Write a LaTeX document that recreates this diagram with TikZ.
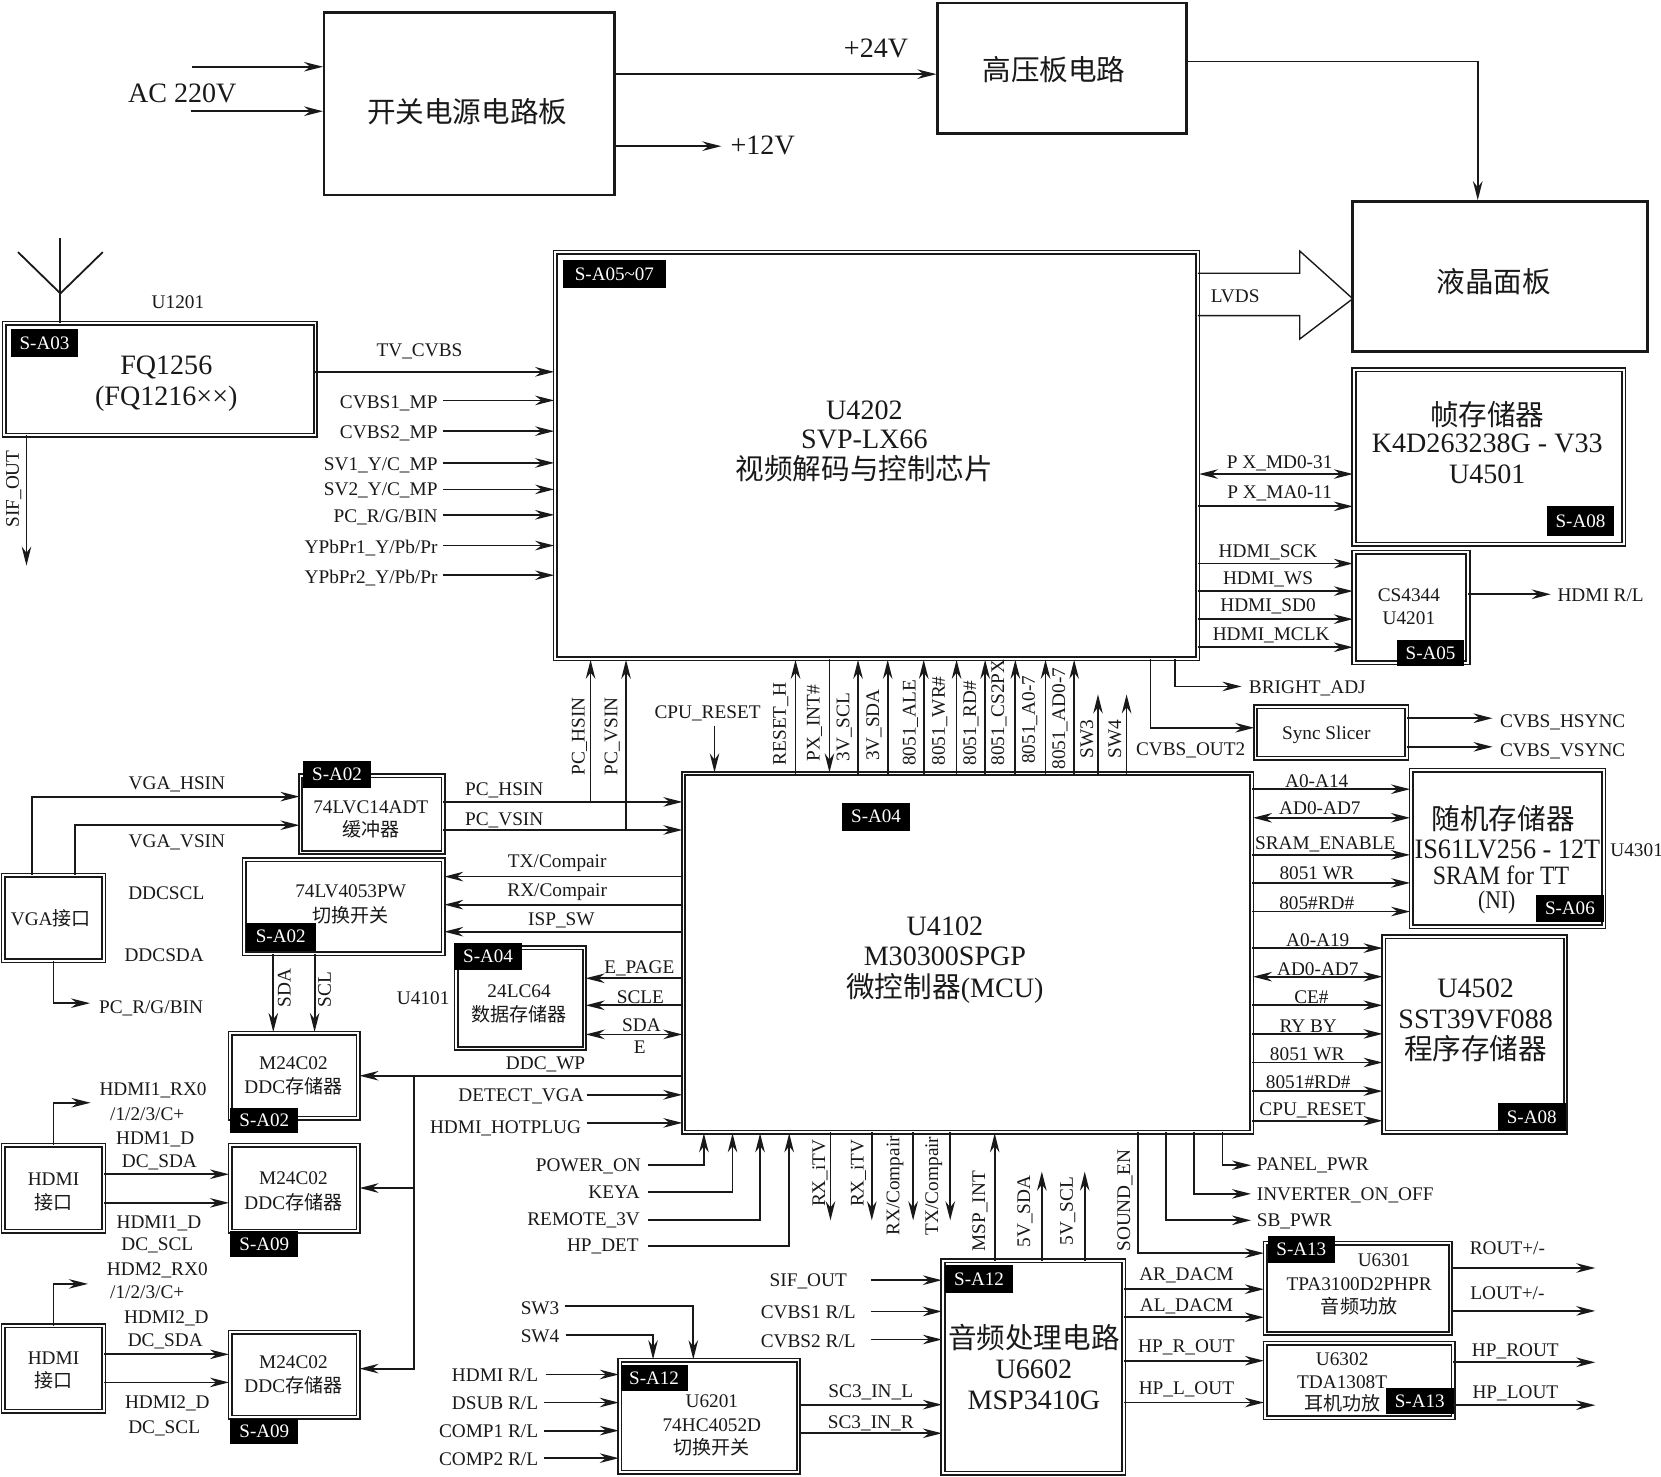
\documentclass[tikz,border=0pt]{standalone}
\usepackage{fontspec}
\usetikzlibrary{arrows.meta}
\setmainfont{Liberation Serif}
\newfontfamily\cj{Noto Sans CJK SC}
\catcode`\_=12
\newcounter{nid}
\colorlet{ink}{black!90}
\tikzset{
  x=1pt,y=-1pt,
  arr/.style={draw=ink,line width=1.7,-{Stealth[length=18,width=9]},shorten >=1},
  barr/.style={draw=ink,line width=1.7,{Stealth[length=18,width=9]}-{Stealth[length=18,width=9]},shorten >=1,shorten <=1},
  ln/.style={draw=ink,line width=1.7},
  boxd/.style={draw=ink,double=white,double distance=1.8,line width=1.5,inner sep=0,outer sep=0},
  boxs/.style={draw=ink,line width=2.4,inner sep=0,outer sep=0},
  tagb/.style={fill=black,text=white,inner sep=0,outer sep=0,font=\fontsize{18}{18}\selectfont},
  tx/.style={text=ink,inner sep=0,outer sep=0,yshift=-1pt,font=\fontsize{18.2}{18.2}\selectfont},
  bt/.style={font=\fontsize{26.5}{27}\selectfont},
  vt/.style={rotate=90,xshift=1.5pt,yshift=1pt}
}
\newcommand\tb[1]{{\fontsize{18}{18}\selectfont\cj #1}}
\newcommand\tB[1]{{\fontsize{27}{27}\selectfont\cj #1}}
\newcommand\dbx[6]{\node[boxd,minimum width={(#4-#2-4.4)*1pt},minimum height={(#5-#3-4.4)*1pt}] (#1) at ({(#2+#4)/2},{(#3+#5)/2}) {#6};}
\newcommand\sbx[6]{\node[boxs,minimum width={(#4-#2-2)*1pt},minimum height={(#5-#3-2)*1pt}] (#1) at ({(#2+#4)/2},{(#3+#5)/2}) {#6};}
\newcommand\stg[5]{\stepcounter{nid}\node[tagb,minimum width={(#3-#1)*1pt},minimum height={(#4-#2)*1pt}] (g\arabic{nid}) at ({(#1+#3)/2},{(#2+#4)/2}) {#5};}
\newcommand\tl[4][]{\stepcounter{nid}\node[tx,#1] (t\arabic{nid}) at (#2,#3) {#4};}
% connectors: horizontal / vertical between two named anchors
\newcommand\hc[4][arr]{\draw[#1] (#2 |- 0,#4) -- (#3 |- 0,#4);}
\newcommand\vc[4][arr]{\draw[#1] (#2 -| #4,0) -- (#3 -| #4,0);}
% free start (x,y) going to node anchor horizontally
\newcommand\hf[4][arr]{\stepcounter{nid}\coordinate (c\arabic{nid}) at (#2,#3); \draw[#1] (c\arabic{nid}) -- (#4 |- c\arabic{nid});}
% from node anchor horizontally to free end (x,y)
\newcommand\hTo[4][arr]{\stepcounter{nid}\coordinate (c\arabic{nid}) at (#3,#4); \draw[#1] (#2 |- c\arabic{nid}) -- (c\arabic{nid});}
% from node anchor vertically to free end (x,y)
\newcommand\vTo[4][arr]{\stepcounter{nid}\coordinate (c\arabic{nid}) at (#3,#4); \draw[#1] (#2 -| c\arabic{nid}) -- (c\arabic{nid});}
% from node anchor at x vertically to y, then horizontally to a free point
\newcommand\elTo[4]{\stepcounter{nid}\coordinate (c\arabic{nid}) at (#4,#3); \draw[arr] (#1 -| #2,0) |- (c\arabic{nid});}
\begin{document}
\begin{tikzpicture}
\useasboundingbox[fill=white] (0,0) rectangle (1568,1394);
%% top power
\sbx{power}{305}{11}{581}{185}{}
\sbx{hv}{884}{2}{1121}{127}{}
\sbx{panel}{1276}{189}{1556}{333}{}
\tl{441}{104}{\tB{开关电源电路板}}
\tl{995}{65}{\tB{高压板电路}}
\tl{1410}{265}{\tB{液晶面板}}
\tl[bt]{172}{87}{AC 220V}
\hf{181}{63}{power.west}
\hf{180}{105}{power.west}
\hc{power.east}{hv.west}{70}
\tl[bt]{827}{45}{+24V}
\hTo{power.east}{682}{138}
\tl[bt]{720}{136}{+12V}
\draw[arr] (hv.east |- 0,58) -| (panel.north -| 1395,0);
%% tuner
\dbx{tuner}{2}{303}{300}{413}{}
\coordinate (antt) at (57,225);
\coordinate (antl) at (17,238);
\coordinate (antr) at (97,238);
\coordinate (antm) at (57,277);
\draw[ln] (tuner.north -| antt) -- (antt);
\draw[ln] (antl) -- (antm) -- (antr);
\tl{168}{284}{U1201}
\stg{10}{311}{74}{337}{S-A03}
\tl[bt]{157}{346}{FQ1256}
\tl[bt]{157}{375}{(FQ1216××)}
\vTo{tuner.south}{25}{535}
\tl[vt]{14}{462}{SIF_OUT}
%% main chip
\dbx{main}{522}{236}{1133}{624}{}
\stg{531}{245}{629}{272}{S-A05\textasciitilde07}
\tl[bt]{816}{386}{U4202}
\tl[bt]{816}{414}{SVP-LX66}
\tl{816}{441}{\tB{视频解码与控制芯片}}
\hc{tuner.east}{main.west}{351}
\tl{396}{331}{TV_CVBS}
\tl[anchor=east]{413}{380}{CVBS1_MP}\hf{418}{378}{main.west}
\tl[anchor=east]{413}{408}{CVBS2_MP}\hf{418}{407}{main.west}
\tl[anchor=east]{413}{438}{SV1_Y/C_MP}\hf{418}{437}{main.west}
\tl[anchor=east]{413}{462}{SV2_Y/C_MP}\hf{418}{462}{main.west}
\tl[anchor=east]{413}{487}{PC_R/G/BIN}\hf{418}{486}{main.west}
\tl[anchor=east]{413}{516}{YPbPr1_Y/Pb/Pr}\hf{418}{515}{main.west}
\tl[anchor=east]{413}{545}{YPbPr2_Y/Pb/Pr}\hf{418}{543}{main.west}
%% LVDS block arrow
\coordinate (lv1) at (1227,258);\coordinate (lv2) at (1227,237);\coordinate (lv4) at (1227,320);\coordinate (lv5) at (1227,298);
\draw[ln,line width=1.3] (main.east |- lv1) -- (lv1) -- (lv2) -- (panel.west |- 0,282) -- (lv4) -- (lv5) -- (main.east |- lv5);
\tl{1166}{279}{LVDS}
%% frame memory
\dbx{frame}{1276}{347}{1535}{516}{}
\tl{1404}{390}{\tB{帧存储器}}
\tl[bt]{1404}{418}{K4D263238G - V33}
\tl[bt]{1404}{447}{U4501}
\stg{1460}{478}{1524}{506}{S-A08}
\hc[barr]{main.east}{frame.west}{447.5}
\tl{1208}{436}{P X_MD0-31}
\hc{main.east}{frame.west}{478}
\tl{1208}{465}{P X_MA0-11}
%% CS4344
\dbx{cs}{1276}{519}{1388}{628}{}
\tl{1330}{561}{CS4344}
\tl{1330}{583}{U4201}
\stg{1319}{604}{1382}{629}{S-A05}
\hc{main.east}{cs.west}{532}\tl{1197}{520}{HDMI_SCK}
\hc{main.east}{cs.west}{558}\tl{1197}{546}{HDMI_WS}
\hc{main.east}{cs.west}{584.5}\tl{1197}{571.5}{HDMI_SD0}
\hc{main.east}{cs.west}{611}\tl{1200}{599}{HDMI_MCLK}
\hTo{cs.east}{1465}{561}
\tl{1511}{561}{HDMI R/L}
\elTo{main.south}{1109}{648}{1173}
\tl[anchor=west]{1179}{649}{BRIGHT_ADJ}
%% sync
\dbx{sync}{1183}{665}{1330}{718}{}
\tl{1252}{692.5}{Sync Slicer}
\draw[arr] (main.south -| 1086,0) |- (sync.west |- 0,687);
\tl{1124}{707}{CVBS_OUT2}
\hTo{sync.east}{1410}{678}
\hTo{sync.east}{1410}{705}
\tl[anchor=west]{1416}{681}{CVBS_HSYNC}
\tl[anchor=west]{1416}{708}{CVBS_VSYNC}
%% MCU
\dbx{mcu}{643}{728}{1184}{1071}{}
\stg{795}{758}{859}{784}{S-A04}
\tl[bt]{892}{873}{U4102}
\tl[bt]{892}{902}{M30300SPGP}
\tl[bt]{892}{932}{\tB{微控制器}(MCU)}
%% SRAM
\dbx{sram}{1330}{725}{1516}{877}{}
\tl{1419}{772}{\tB{随机存储器}}
\tl[bt,xscale=.935,transform shape]{1423}{801}{IS61LV256 - 12T}
\tl[font=\fontsize{25}{25}\selectfont,xscale=.9,transform shape]{1417}{825}{SRAM for TT}
\tl[font=\fontsize{24}{24}\selectfont,xscale=.85,transform shape]{1413}{851}{(NI)}
\stg{1450}{845}{1514}{870}{S-A06}
\tl{1545}{802}{U4301}
\hc{mcu.east}{sram.west}{745}\tl{1243}{736}{A0-A14}
\hc[barr]{mcu.east}{sram.west}{772}\tl{1246}{762}{AD0-AD7}
\hc{mcu.east}{sram.west}{807}\tl{1251}{796}{SRAM_ENABLE}
\hc{mcu.east}{sram.west}{833.5}\tl{1243}{823}{8051 WR}
\hc{mcu.east}{sram.west}{860.5}\tl{1243}{851.5}{805\#RD\#}
%% program memory
\dbx{prog}{1304}{882}{1480}{1071}{}
\tl[bt]{1393}{932}{U4502}
\tl[bt]{1393}{961}{SST39VF088}
\tl{1393}{989}{\tB{程序存储器}}
\stg{1414}{1041}{1478}{1068}{S-A08}
\hc{mcu.east}{prog.west}{895}\tl{1244}{887}{A0-A19}
\hc[barr]{mcu.east}{prog.west}{922}\tl{1244}{914}{AD0-AD7}
\hc{mcu.east}{prog.west}{949}\tl{1238}{940}{CE\#}
\hc{mcu.east}{prog.west}{976}\tl{1235}{968}{RY BY}
\hc{mcu.east}{prog.west}{1003}\tl{1234}{994}{8051 WR}
\hc{mcu.east}{prog.west}{1030}\tl{1235}{1021}{8051\#RD\#}
\hc{mcu.east}{prog.west}{1058}\tl{1239}{1047}{CPU_RESET}
%% MCU-main verticals
\vc{mcu.north}{main.south}{751}\tl[vt]{738}{684}{RESET_H}
\vc{main.south}{mcu.north}{783}\tl[vt]{770}{683}{PX_INT\#}
\vc{mcu.north}{main.south}{810}\tl[vt]{798}{687}{3V_SCL}
\vc{mcu.north}{main.south}{838}\tl[vt]{826}{685}{3V_SDA}
\vc{mcu.north}{main.south}{872}\tl[vt]{860.5}{683}{8051_ALE}
\vc{mcu.north}{main.south}{903}\tl[vt]{888}{681}{8051_WR\#}
\vc{mcu.north}{main.south}{930}\tl[vt]{917.5}{683}{8051_RD\#}
\vc{mcu.north}{main.south}{958.5}\tl[vt]{944}{673}{8051_CS2PX}
\vc{mcu.north}{main.south}{987}\tl[vt]{973}{680}{8051_A0-7}
\vc{mcu.north}{main.south}{1014}\tl[vt]{1001.5}{679}{8051_AD0-7}
\vTo{mcu.north}{1036.5}{654.5}\tl[vt]{1027}{698.5}{SW3}
\vTo{mcu.north}{1063.5}{654.5}\tl[vt]{1053.5}{698.5}{SW4}
\tl{668}{672}{CPU_RESET}
\coordinate (crs) at (674.5,685);
\draw[arr] (crs) -- (mcu.north -| crs);
%% 74LVC14
\dbx{buf}{281.5}{730}{420.5}{807}{}
\stg{286.5}{718}{350}{744}{S-A02}
\tl{350}{761.5}{74LVC14ADT}
\tl{350}{782}{\tb{缓冲器}}
\hc{buf.east}{mcu.west}{757}\tl{476}{745}{PC_HSIN}
\hc{buf.east}{mcu.west}{783.5}\tl{476}{773}{PC_VSIN}
\coordinate (hs) at (557.5,757);\coordinate (vs) at (591,783.5);
\draw[arr] (hs) -- (main.south -| hs);
\draw[arr] (vs) -- (main.south -| vs);
\tl[vt]{548}{695.5}{PC_HSIN}
\tl[vt]{579}{695.5}{PC_VSIN}
%% VGA
\dbx{vga}{1}{824}{100}{909}{}
\tl{48}{866}{VGA\tb{接口}}
\draw[arr] (vga.north -| 30,0) |- (buf.west |- 0,752);
\draw[arr] (vga.north -| 70.5,0) |- (buf.west |- 0,779);
\tl{167}{739.5}{VGA_HSIN}
\tl{167}{794}{VGA_VSIN}
\tl{157}{842}{DDCSCL}
\tl{155}{901}{DDCSDA}
\elTo{vga.south}{50.5}{947}{86}
\tl[anchor=west]{93.5}{950.5}{PC_R/G/BIN}
%% 74LV4053
\dbx{sw}{228.5}{809.5}{420.5}{902.5}{}
\tl{331}{840.5}{74LV4053PW}
\tl{331}{863}{\tb{切换开关}}
\stg{232}{871}{298}{897.5}{S-A02}
\hc{mcu.west}{sw.east}{827.5}\tl{526}{814}{TX/Compair}
\hc{mcu.west}{sw.east}{854}\tl{526}{841.5}{RX/Compair}
\hc{mcu.west}{sw.east}{879.5}\tl{530}{868}{ISP_SW}
%% 24LC64
\dbx{eep}{428.5}{892.5}{554}{992}{}
\stg{428.5}{890}{493}{916}{S-A04}
\tl{490}{935}{24LC64}
\tl{490}{956}{\tb{数据存储器}}
\tl{399.5}{941.5}{U4101}
\hc{mcu.west}{eep.east}{923.5}\tl{603.5}{913}{E_PAGE}
\hc{mcu.west}{eep.east}{949}\tl{604.5}{940}{SCLE}
\hc[barr]{mcu.west}{eep.east}{976.5}\tl{605.5}{967}{SDA}\tl{604}{988}{E}
%% DDC memories
\dbx{ma}{215}{973}{340.5}{1058}{}
\tl{277}{1002.5}{M24C02}
\tl{277}{1024.5}{DDC\tb{存储器}}
\stg{217.5}{1045.5}{281.5}{1070}{S-A02}
\dbx{mb}{215}{1079}{340.5}{1164.5}{}
\tl{277}{1111}{M24C02}
\tl{277}{1133.5}{DDC\tb{存储器}}
\stg{217.5}{1162}{281.5}{1186.5}{S-A09}
\dbx{mc}{215}{1255.5}{340.5}{1340}{}
\tl{277}{1285}{M24C02}
\tl{277}{1307}{DDC\tb{存储器}}
\stg{217.5}{1340}{281.5}{1363}{S-A09}
\vc{sw.south}{ma.north}{258}\tl[vt]{269.5}{933}{SDA}
\vc{sw.south}{ma.north}{297}\tl[vt]{307.5}{934.5}{SCL}
\hc{mcu.west}{ma.east}{1015.5}\tl{515}{1004}{DDC_WP}
\coordinate (br) at (391,1015.5);
\draw[arr] (br) |- (mb.east |- 0,1121.5);
\draw[arr] (br) |- (mc.east |- 0,1292);
\tl[anchor=east]{551}{1034}{DETECT_VGA}
\hf{554}{1033.5}{mcu.west}
\tl[anchor=east]{548.5}{1064}{HDMI_HOTPLUG}
\hf{554}{1060}{mcu.west}
%% HDMI ports
\dbx{ha}{1}{1079}{100}{1164.5}{}
\tl{50.5}{1112}{HDMI}
\tl{50.5}{1133.5}{\tb{接口}}
\dbx{hb}{1}{1249.5}{100}{1334.5}{}
\tl{50.5}{1281}{HDMI}
\tl{50.5}{1302}{\tb{接口}}
\elTo{ha.north}{50.5}{1041}{86.5}
\elTo{hb.north}{50.5}{1212}{84}
\tl{144.5}{1028}{HDMI1_RX0}
\tl{139}{1050.5}{/1/2/3/C+}
\tl{146.5}{1075}{HDM1_D}
\tl{150.5}{1096.5}{DC_SDA}
\hc{ha.east}{mb.west}{1108.5}
\hc{ha.east}{mb.west}{1135.5}
\tl{150}{1153.5}{HDMI1_D}
\tl{148.5}{1174.5}{DC_SCL}
\tl{148.5}{1198.5}{HDM2_RX0}
\tl{139}{1218.5}{/1/2/3/C+}
\tl{157}{1243.5}{HDMI2_D}
\tl{156}{1265}{DC_SDA}
\hc{hb.east}{mc.west}{1278.5}
\hc{hb.east}{mc.west}{1305}
\tl{158}{1324}{HDMI2_D}
\tl{155}{1347}{DC_SCL}
%% bottom left MCU inputs
\tl[anchor=east]{605}{1100}{POWER_ON}
\tl[anchor=east]{604}{1124}{KEYA}
\tl[anchor=east]{604}{1151}{REMOTE_3V}
\tl[anchor=east]{603}{1176}{HP_DET}
\coordinate (i1) at (612,1100);\coordinate (i2) at (612,1125.5);\coordinate (i3) at (612,1152);\coordinate (i4) at (612,1176);
\draw[arr] (i1) -| (mcu.south -| 664.5,0);
\draw[arr] (i2) -| (mcu.south -| 691.5,0);
\draw[arr] (i3) -| (mcu.south -| 717.5,0);
\draw[arr] (i4) -| (mcu.south -| 745,0);
%% audio
\dbx{msp}{888}{1188}{1063}{1393}{}
\stg{892.5}{1194}{956}{1220.5}{S-A12}
\tl{976}{1262}{\tB{音频处理电路}}
\tl[bt]{976}{1292}{U6602}
\tl[bt]{976}{1321}{MSP3410G}
\dbx{amp}{1192}{1171.5}{1371.5}{1261}{}
\stg{1197}{1167}{1260}{1192}{S-A13}
\tl{1306.5}{1189}{U6301}
\tl{1283}{1211.5}{TPA3100D2PHPR}
\tl{1283}{1232}{\tb{音频功放}}
\dbx{hpa}{1192}{1266}{1374}{1340.5}{}
\tl{1267}{1282}{U6302}
\tl{1267}{1304}{TDA1308T}
\tl{1267}{1324}{\tb{耳机功放}}
\stg{1308}{1310}{1372.5}{1335}{S-A13}
\vTo{mcu.south}{784}{1153}\tl[vt]{775}{1108}{RX_iTV}
\vTo{mcu.south}{823}{1153}\tl[vt]{811.5}{1108}{RX_iTV}
\vTo{mcu.south}{862}{1153}\tl[vt]{846}{1120}{RX/Compair}
\vTo{mcu.south}{897}{1153}\tl[vt]{882.5}{1120}{TX/Compair}
\vc{msp.north}{mcu.south}{939}\tl[vt]{926}{1144}{MSP_INT}
\vTo{msp.north}{983.5}{1105}\tl[vt]{968.5}{1144}{5V_SDA}
\vTo{msp.north}{1024}{1105}\tl[vt]{1009}{1144}{5V_SCL}
\tl[vt]{1063}{1134}{SOUND_EN}
\draw[arr] (mcu.south -| 1074,0) |- (amp.west |- 0,1183);
\elTo{mcu.south}{1154}{1100}{1182}
\tl[anchor=west]{1186.5}{1099}{PANEL_PWR}
\elTo{mcu.south}{1127.5}{1127}{1182}
\tl[anchor=west]{1186.5}{1127}{INVERTER_ON_OFF}
\elTo{mcu.south}{1101}{1152}{1182}
\tl[anchor=west]{1186.5}{1152}{SB_PWR}
\hc{msp.east}{amp.west}{1217}\tl{1120}{1203}{AR_DACM}
\hc{msp.east}{amp.west}{1243.5}\tl{1120}{1232.5}{AL_DACM}
\hc{msp.east}{hpa.west}{1284.5}\tl{1120}{1271}{HP_R_OUT}
\hc{msp.east}{hpa.west}{1324}\tl{1120}{1310.5}{HP_L_OUT}
\hTo{amp.east}{1507}{1197}\tl{1423}{1177}{ROUT+/-}
\hTo{amp.east}{1507}{1237.5}\tl{1423}{1219.5}{LOUT+/-}
\hTo{hpa.east}{1507}{1286}\tl{1430.5}{1275}{HP_ROUT}
\hTo{hpa.east}{1507}{1326.5}\tl{1430.5}{1314}{HP_LOUT}
\tl{763}{1209}{SIF_OUT}\hf{822}{1208.5}{msp.west}
\tl{763}{1238}{CVBS1 R/L}\hf{822}{1238}{msp.west}
\tl{763}{1265}{CVBS2 R/L}\hf{822}{1264.5}{msp.west}
%% U6201
\dbx{mux}{583}{1282}{756}{1392}{}
\stg{586}{1288.5}{649}{1313}{S-A12}
\tl{672}{1322}{U6201}
\tl{672}{1344}{74HC4052D}
\tl{672}{1365}{\tb{切换开关}}
\hc{mux.east}{msp.west}{1326}\tl{822}{1313}{SC3_IN_L}
\hc{mux.east}{msp.west}{1353}\tl{822}{1343}{SC3_IN_R}
\tl[anchor=east]{528}{1234}{SW3}
\tl[anchor=east]{528}{1260.5}{SW4}
\coordinate (s3) at (533,1233);\coordinate (s4) at (534,1260);
\draw[arr] (s3) -| (mux.north -| 654.5,0);
\draw[arr] (s4) -| (mux.north -| 616.5,0);
\tl[anchor=east]{508}{1297.5}{HDMI R/L}\hf{515}{1297.5}{mux.west}
\tl[anchor=east]{508}{1324}{DSUB R/L}\hf{514}{1324}{mux.west}
\tl[anchor=east]{508}{1350.5}{COMP1 R/L}\hf{514}{1350.5}{mux.west}
\tl[anchor=east]{508}{1376.5}{COMP2 R/L}\hf{514}{1376.5}{mux.west}
\end{tikzpicture}
\end{document}
